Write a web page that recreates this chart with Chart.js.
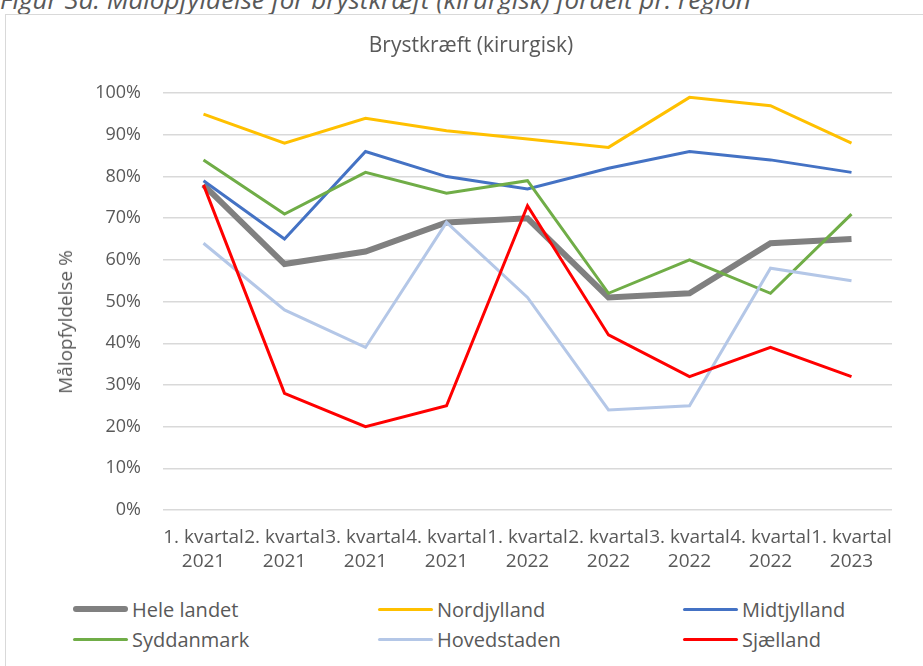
<!DOCTYPE html>
<html>
<head>
<meta charset="utf-8">
<script src="https://cdn.jsdelivr.net/npm/chart.js@4"></script>
<style>
  body { margin: 0; background: #fff; font-family: "Open Sans", sans-serif; color: #595959; }
  #caption { position: absolute; left: 0; top: -19px; font-size: 26px; font-style: italic; white-space: nowrap; }
  #frame { position: absolute; left: 5px; top: 14px; width: 930px; height: 670px; border: 1px solid #d9d9d9; box-sizing: border-box; }
  #wrap { position: absolute; left: 6px; top: 14px; width: 917px; height: 570px; }
  #ytitle { position: absolute; left: 65px; top: 322px; font-size: 19px; white-space: nowrap;
            transform: translate(-50%, -50%) rotate(-90deg); }
  #legend { position: absolute; left: 73px; top: 597px; display: grid; grid-template-columns: 305px 305px 220px; row-gap: 6px; font-size: 20px; }
  .item { display: flex; align-items: center; height: 24px; }
  .swatch { width: 55px; margin-right: 4px; border-radius: 3px; }
</style>
</head>
<body>
<div id="caption">Figur 3a: Målopfyldelse for brystkræft (kirurgisk) fordelt pr. region</div>
<div id="frame"></div>
<div id="wrap"><canvas id="myChart"></canvas></div>
<div id="ytitle">Målopfyldelse %</div>
<div id="legend"></div>
<script>
const kvartaler = [
  ["1. kvartal", "2021"], ["2. kvartal", "2021"], ["3. kvartal", "2021"], ["4. kvartal", "2021"],
  ["1. kvartal", "2022"], ["2. kvartal", "2022"], ["3. kvartal", "2022"], ["4. kvartal", "2022"],
  ["1. kvartal", "2023"]
];
const regioner = ["Hele landet", "Nordjylland", "Midtjylland", "Syddanmark", "Hovedstaden", "Sjælland"];
const heleLandet  = [78, 59, 62, 69, 70, 51, 52, 64, 65];
const nordjylland = [95, 88, 94, 91, 89, 87, 99, 97, 88];
const midtjylland = [79, 65, 86, 80, 77, 82, 86, 84, 81];
const syddanmark  = [84, 71, 81, 76, 79, 52, 60, 52, 71];
const hovedstaden = [64, 48, 39, 69, 51, 24, 25, 58, 55];
const sjaelland   = [78, 28, 20, 25, 73, 42, 32, 39, 32];

const farver = ["#808080", "#FFC000", "#4472C4", "#70AD47", "#B4C7E7", "#FF0000"];
const bredder = [6, 3, 3, 3, 3, 3];
const serier = [heleLandet, nordjylland, midtjylland, syddanmark, hovedstaden, sjaelland];

const tekst = "#595959";

const chart = new Chart(document.getElementById('myChart'), {
  type: 'line',
  data: {
    labels: kvartaler,
    datasets: serier.map((s, i) => ({
      label: regioner[i],
      data: s.map(v => v / 100),
      borderColor: farver[i],
      backgroundColor: farver[i],
      borderWidth: bredder[i],
      pointRadius: 0,
      tension: 0,
      order: serier.length - i
    }))
  },
  options: {
    responsive: true,
    maintainAspectRatio: false,
    animation: false,
    layout: { padding: { left: 44, right: 31, top: 0, bottom: 0 } },
    plugins: {
      legend: { display: false },
      tooltip: { enabled: false },
      title: {
        display: true,
        text: 'Brystkræft (kirurgisk)',
        color: tekst,
        font: { family: 'Open Sans', size: 21, weight: 'normal' },
        padding: { top: 19, bottom: 35 }
      }
    },
    scales: {
      x: {
        offset: true,
        grid: { display: false },
        border: { display: false },
        ticks: {
          color: tekst,
          font: { family: 'Open Sans', size: 19, lineHeight: 1.3 },
          maxRotation: 0, minRotation: 0, autoSkip: false,
          padding: 7
        },
        afterFit(scale) { scale.height = 74; }
      },
      y: {
        min: 0, max: 1,
        grid: { color: '#d9d9d9', lineWidth: 1.5, drawTicks: false },
        border: { display: false },
        ticks: {
          stepSize: 0.1,
          color: tekst,
          font: { family: 'Open Sans', size: 18 },
          padding: 22,
          callback: v => Math.round(v * 100) + '%'
        },
        afterFit(scale) { scale.width = 113; }
      }
    }
  }
});

// legend i tre kolonner
const legend = document.getElementById('legend');
chart.data.datasets.forEach(d => {
  const item = document.createElement('div');
  item.className = 'item';
  const sw = document.createElement('span');
  sw.className = 'swatch';
  sw.style.height = d.borderWidth + 'px';
  sw.style.background = d.borderColor;
  item.appendChild(sw);
  item.appendChild(document.createTextNode(d.label));
  legend.appendChild(item);
});
</script>
</body>
</html>
